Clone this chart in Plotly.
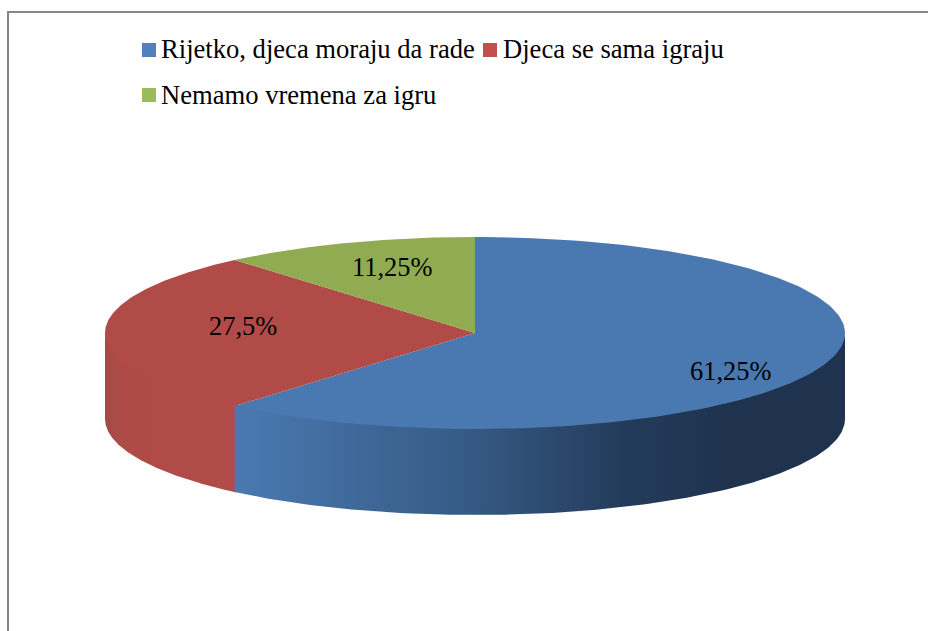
import numpy as np
import plotly.graph_objects as go

# Data
categories = ["Rijetko, djeca moraju da rade", "Djeca se sama igraju", "Nemamo vremena za igru"]
shares = [61.25, 27.5, 11.25]
labels = ["61,25%", "27,5%", "11,25%"]

# Style
top_colors = ["#4a79b1", "#b04b47", "#91ab52"]
key_colors = ["#4f81bd", "#c0504d", "#9bbb59"]
CX, CY, RX, RY, DEPTH = 475, 333, 370, 96, 86
FONT = "Liberation Serif"
W, H = 928, 631


def rim(a0, a1, n=200):
    t = np.radians(np.linspace(a0, a1, n))
    return CX + RX * np.sin(t), CY - RY * np.cos(t)


edges = np.concatenate([[0], np.cumsum(shares)]) * 3.6
fig = go.Figure()

# Frame
fig.add_shape(type="path", path=f"M 8 {H} L 8 12 L {W} 12", line=dict(color="#868686", width=2))

# Side walls, drawn only where the rim faces the viewer (90..270 degrees)
wall_scales = {
    0: [[0, "#4a79b1"], [0.45, "#375c87"], [0.8, "#233b5a"], [1, "#1f334f"]],
    1: [[0, "#a34a46"], [0.25, "#ad4b47"], [1, "#b04b47"]],
}
wall_ranges = {1: (edges[1] - 0.4, 270, 105, 160), 0: (90, edges[1], 235, 725)}
for i, (a0, a1, gx0, gx1) in wall_ranges.items():
    x, y = rim(a0, a1)
    px = np.concatenate([x, x[::-1], x[:1]])
    # top edge tucked 2px under the top face so no seam shows
    py = np.concatenate([y - 2, y[::-1] + DEPTH, y[:1] - 2])
    fig.add_trace(go.Scatter(
        x=px, y=py, mode="lines", line=dict(width=0), fill="toself",
        fillgradient=dict(type="horizontal", colorscale=wall_scales[i], start=gx0, stop=gx1),
        hoverinfo="skip", showlegend=False))

# Top face slices
for i, name in enumerate(categories):
    x, y = rim(edges[i], edges[i + 1])
    fig.add_trace(go.Scatter(
        x=np.concatenate([[CX], x, [CX]]), y=np.concatenate([[CY], y, [CY]]),
        mode="lines", line=dict(width=0), fill="toself", fillcolor=top_colors[i],
        name=name, hoverinfo="name", showlegend=False))

# Legend keys and texts
key_x = [149, 490, 149]
key_y = [50, 50, 95]
text_x = [159, 501, 159]
text_y = [49, 49, 95]
fig.add_trace(go.Scatter(
    x=key_x, y=key_y, mode="markers",
    marker=dict(symbol="square", size=14, color=key_colors, line=dict(width=0)),
    hoverinfo="skip", showlegend=False))
for i, name in enumerate(categories):
    fig.add_annotation(x=text_x[i], y=text_y[i], text=name, showarrow=False, xanchor="left",
                       yanchor="middle", font=dict(family=FONT, size=26.6, color="#000000"))

# Value labels
label_x = [730, 243, 392]
label_y = [371, 326, 267]
for i, text in enumerate(labels):
    fig.add_annotation(x=label_x[i], y=label_y[i], text=text, showarrow=False,
                       font=dict(family=FONT, size=26.4, color="#000000"))

fig.update_layout(
    width=W, height=H, margin=dict(l=0, r=0, t=0, b=0),
    paper_bgcolor="white", plot_bgcolor="white", showlegend=False,
    xaxis=dict(range=[0, W], visible=False, fixedrange=True),
    yaxis=dict(range=[H, 0], visible=False, fixedrange=True),
)
fig.write_html("out.html", config=dict(displayModeBar=False),
               post_script="document.body.style.margin='0';document.body.style.overflow='hidden';")
